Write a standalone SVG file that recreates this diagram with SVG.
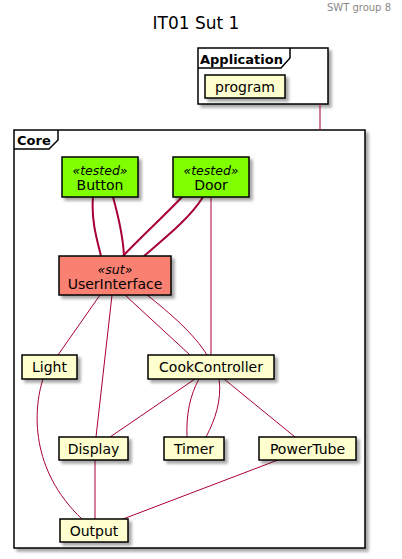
<svg xmlns="http://www.w3.org/2000/svg" width="402" height="559" viewBox="0 0 402 559">
<style>
text{font-family:"DejaVu Sans","Liberation Sans",sans-serif;fill:#000}
.node{fill:#FEFECE;stroke:#000;stroke-width:1.5}
.tested{fill:#7FFF00;stroke:#000;stroke-width:1.5}
.sut{fill:#FA8072;stroke:#000;stroke-width:1.5}
.pkg{fill:#fff;stroke:#000;stroke-width:1.5}
.tab{fill:none;stroke:#000;stroke-width:1.5}
.lbl{font-size:14px;text-anchor:middle}
.st{font-size:12.5px;font-style:italic;text-anchor:middle}
.pl{font-size:13px;font-weight:bold}
.e{fill:none;stroke:#A80036;stroke-width:1}
.e2{fill:none;stroke:#A80036;stroke-width:2}
</style>
<defs>
<filter id="sh" x="-10%" y="-10%" width="130%" height="140%">
<feGaussianBlur in="SourceAlpha" stdDeviation="1.5"/>
<feOffset dx="3" dy="3" result="o"/>
<feComponentTransfer><feFuncA type="linear" slope="0.35"/></feComponentTransfer>
<feMerge><feMergeNode/><feMergeNode in="SourceGraphic"/></feMerge>
</filter>
</defs>
<rect width="402" height="559" fill="#fff"/>
<text x="391" y="11" font-size="10" text-anchor="end" style="fill:#888">SWT group 8</text>
<text x="196" y="29" font-size="17" text-anchor="middle">IT01 Sut 1</text>

<g id="Application">
<rect class="pkg" x="198" y="48" width="130" height="56" filter="url(#sh)"/>
<path class="tab" d="M198,68 L281,68 L290,58 L290,48"/>
<text class="pl" x="200" y="64">Application</text>
</g>
<g id="Core">
<rect class="pkg" x="14" y="130" width="351" height="418" filter="url(#sh)"/>
<path class="tab" d="M14,149 L49,149 L58,140 L58,130"/>
<text class="pl" x="17" y="145">Core</text>
</g>

<g id="connectors">
<path class="e" d="M320,104 L320,130"/>
<path class="e2" d="M93,197 C91,220 97,240 101,256"/>
<path class="e2" d="M113,197 C118,215 123,235 124,256"/>
<path class="e2" d="M182,197 C165,215 140,238 123,256"/>
<path class="e2" d="M203,197 C190,218 165,238 144,256"/>
<path class="e" d="M211,197 L211,355"/>
<path class="e" d="M100,295 L58,355"/>
<path class="e" d="M112,295 L96,437"/>
<path class="e" d="M125,295 L190,355"/>
<path class="e" d="M147,295 C170,313 195,335 207,355"/>
<path class="e" d="M195,379 L110,437"/>
<path class="e" d="M199,379 C190,395 186,415 187,437"/>
<path class="e" d="M219,379 C222,400 215,420 206,437"/>
<path class="e" d="M224,379 L295,437"/>
<path class="e" d="M43,379 C33,410 30,470 82,519"/>
<path class="e" d="M95,460 L95,519"/>
<path class="e" d="M278,460 L123,519"/>
</g>

<g id="program">
<rect class="node" x="205" y="75" width="80" height="23" filter="url(#sh)"/>
<text class="lbl" x="245" y="92">program</text>
</g>
<g id="Button">
<rect class="tested" x="62" y="157" width="76" height="40" filter="url(#sh)"/>
<text class="st" x="100" y="175">«tested»</text>
<text class="lbl" x="100" y="190">Button</text>
</g>
<g id="Door">
<rect class="tested" x="173" y="157" width="76" height="40" filter="url(#sh)"/>
<text class="st" x="211" y="175">«tested»</text>
<text class="lbl" x="211" y="190">Door</text>
</g>
<g id="UserInterface">
<rect class="sut" x="59" y="256" width="112" height="39" filter="url(#sh)"/>
<text class="st" x="115" y="274">«sut»</text>
<text class="lbl" x="115" y="289">UserInterface</text>
</g>
<g id="Light">
<rect class="node" x="22" y="355" width="55" height="24" filter="url(#sh)"/>
<text class="lbl" x="49.5" y="372">Light</text>
</g>
<g id="CookController">
<rect class="node" x="148" y="355" width="126" height="24" filter="url(#sh)"/>
<text class="lbl" x="211" y="372">CookController</text>
</g>
<g id="Display">
<rect class="node" x="59" y="437" width="69" height="23" filter="url(#sh)"/>
<text class="lbl" x="93.5" y="454">Display</text>
</g>
<g id="Timer">
<rect class="node" x="164" y="437" width="60" height="23" filter="url(#sh)"/>
<text class="lbl" x="194" y="454">Timer</text>
</g>
<g id="PowerTube">
<rect class="node" x="259" y="437" width="97" height="23" filter="url(#sh)"/>
<text class="lbl" x="307.5" y="454">PowerTube</text>
</g>
<g id="Output">
<rect class="node" x="60" y="519" width="68" height="23" filter="url(#sh)"/>
<text class="lbl" x="94" y="536">Output</text>
</g>
</svg>
